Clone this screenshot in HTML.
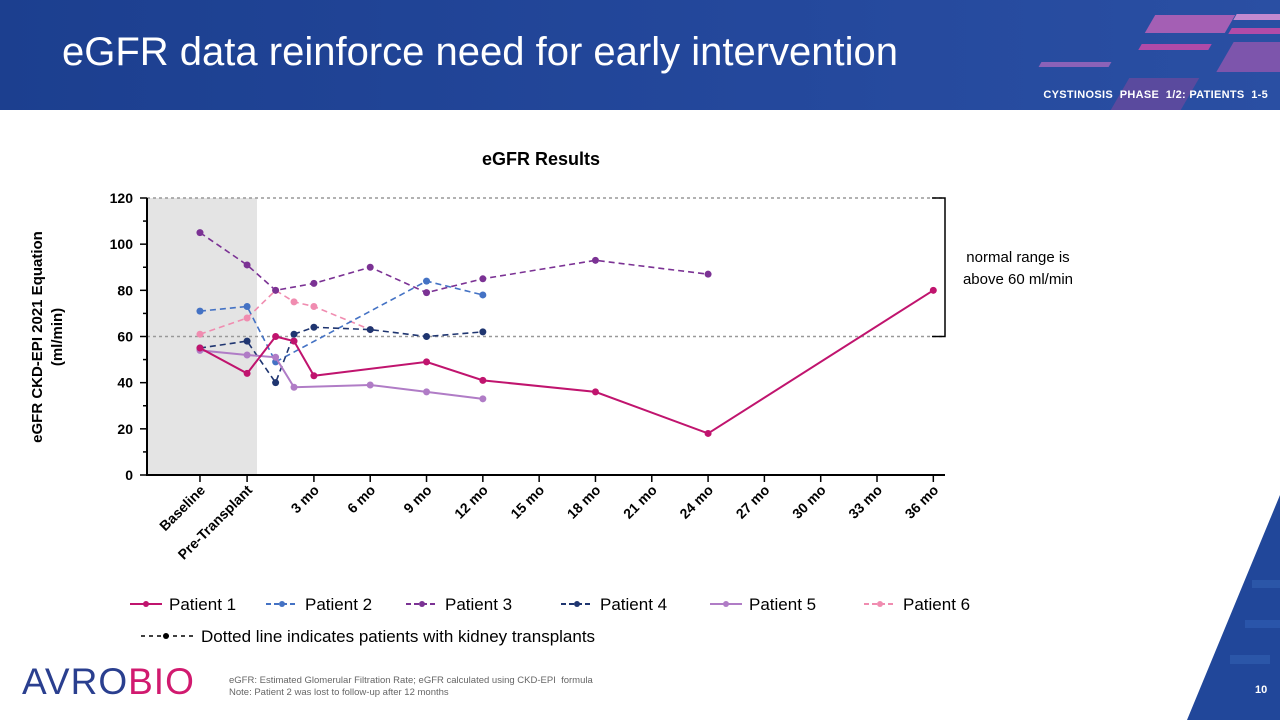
<!DOCTYPE html>
<html><head><meta charset="utf-8"><style>
body{margin:0;width:1280px;height:720px;overflow:hidden;background:#fff;font-family:"Liberation Sans",sans-serif;position:relative}
.hdr{position:absolute;left:0;top:0;width:1280px;height:110px;background:linear-gradient(90deg,#1c3f8f,#24489c 60%,#2a4fa3)}
.title{position:absolute;left:62px;top:30px;color:#fff;font-size:40px}
.sub{position:absolute;right:12px;top:89px;color:#fff;font-size:11px;font-weight:bold;letter-spacing:.3px}
.stripe{position:absolute;transform:skewX(-30deg)}
</style></head><body>
<div class="hdr">
 <div class="stripe" style="left:1150px;top:15px;width:80px;height:18px;background:#a45fb4"></div>
 <div class="stripe" style="left:1140px;top:44px;width:70px;height:6px;background:#b04aa8"></div>
 <div class="stripe" style="left:1040px;top:62px;width:70px;height:5px;background:#8b62b8"></div>
 <div class="stripe" style="left:1235px;top:14px;width:60px;height:6px;background:#c28ad0"></div>
 <div class="stripe" style="left:1230px;top:28px;width:60px;height:6px;background:#b24ba8"></div>
 <div class="stripe" style="left:1225px;top:42px;width:70px;height:30px;background:#7d55ac"></div>
 <div class="stripe" style="left:1120px;top:78px;width:70px;height:32px;background:#5a4a9e"></div>
</div>
<div class="title">eGFR data reinforce need for early intervention</div>
<div class="sub">CYSTINOSIS&nbsp; PHASE&nbsp; 1/2: PATIENTS&nbsp; 1-5</div>
<svg width="1280" height="720" style="position:absolute;left:0;top:0" id="chart">
 <polygon points="1280,495 1280,720 1187,720" fill="#21479a"/>
 <rect x="1252" y="580" width="28" height="8" fill="#2b56a8"/>
 <rect x="1230" y="655" width="40" height="9" fill="#2b56a8"/>
 <rect x="1245" y="620" width="35" height="8" fill="#2a55aa"/>
</svg>
<div style="position:absolute;left:22px;top:662px;font-size:37px;color:#2a3f8f;letter-spacing:1px;line-height:40px">AVRO<span style="color:#d11a6f">BIO</span></div>
<div style="position:absolute;left:229px;top:675px;font-size:9.5px;color:#666;line-height:12px">eGFR: Estimated Glomerular Filtration Rate; eGFR calculated using CKD-EPI&nbsp; formula<br>Note: Patient 2 was lost to follow-up after 12 months</div>
<div style="position:absolute;left:1255px;top:684px;font-size:11px;font-weight:bold;color:#fff">10</div>
<script>
const yTicks=[0,20,40,60,80,100,120];
const xCats=["Baseline","Pre-Transplant","3 mo","6 mo","9 mo","12 mo","15 mo","18 mo","21 mo","24 mo","27 mo","30 mo","33 mo","36 mo"];
const xCatMonths=[-3.07,-0.56,3,6,9,12,15,18,21,24,27,30,33,36];
const seriesNames=["Patient 1","Patient 2","Patient 3","Patient 4","Patient 5","Patient 6"];
const p1x=[-3.07,-0.56,0.96,1.94,3,9,12,18,24,36], p1y=[55,44,60,58,43,49,41,36,18,80];
const p2x=[-3.07,-0.56,0.96,9,12], p2y=[71,73,49,84,78];
const p3x=[-3.07,-0.56,0.96,3,6,9,12,18,24], p3y=[105,91,80,83,90,79,85,93,87];
const p4x=[-3.07,-0.56,0.96,1.94,3,6,9,12], p4y=[55,58,40,61,64,63,60,62];
const p5x=[-3.07,-0.56,0.96,1.94,6,9,12], p5y=[54,52,51,38,39,36,33];
const p6x=[-3.07,-0.56,0.96,1.94,3,6], p6y=[61,68,80,75,73,63];
const colors=["#c0146e","#4472c4","#7b3294","#1f3570","#b07cc6","#f08cb0"];
const dashed=[false,true,true,true,false,true];
const X=m=>257.6+m*18.77, Y=v=>475-v*277/120;
const svg=document.getElementById('chart'),NS="http://www.w3.org/2000/svg";
function mk(t,a,txt){const e=document.createElementNS(NS,t);for(const k in a)e.setAttribute(k,a[k]);if(txt!=null)e.textContent=txt;svg.appendChild(e);return e;}
let e;
e=mk('rect',{x:147,y:Y(120),width:110,height:Y(0)-Y(120),fill:"#e4e4e4"});

[60,120].forEach(v=>{e=mk('line',{x1:147,x2:945,y1:Y(v),y2:Y(v),stroke:"#999","stroke-dasharray":"3,3","stroke-width":1.5});
});
e=mk('path',{d:`M932,${Y(120)} H945 V${Y(60)} H932`,fill:"none",stroke:"#000","stroke-width":1.5});

e=mk('text',{x:1018,y:262,"text-anchor":"middle","font-size":15},"normal range is");
e=mk('text',{x:1018,y:284,"text-anchor":"middle","font-size":15},"above 60 ml/min");
e=mk('line',{x1:147,x2:147,y1:Y(120),y2:Y(0)+1,stroke:"#000","stroke-width":2});
e=mk('line',{x1:146,x2:945,y1:Y(0),y2:Y(0),stroke:"#000","stroke-width":2});
yTicks.forEach((v,i)=>{e=mk('line',{x1:140,x2:147,y1:Y(v),y2:Y(v),stroke:"#000","stroke-width":1.5});
 if(i<yTicks.length-1){e=mk('line',{x1:143,x2:147,y1:Y(v+10),y2:Y(v+10),stroke:"#000","stroke-width":1.5});}
 e=mk('text',{x:133,y:Y(v)+5,"text-anchor":"end","font-size":14,"font-weight":"bold"},v);});
xCats.forEach((c,i)=>{const x=X(xCatMonths[i]);e=mk('line',{x1:x,x2:x,y1:Y(0),y2:Y(0)+7,stroke:"#000","stroke-width":1.5});
 e=mk('text',{x:x+6,y:Y(0)+16,"text-anchor":"end","font-size":14,"font-weight":"bold",transform:`rotate(-45 ${x+6} ${Y(0)+16})`},c);});
e=mk('text',{x:541,y:165,"text-anchor":"middle","font-size":18,"font-weight":"bold"},"eGFR Results");
e=mk('text',{x:0,y:0,"text-anchor":"middle","font-size":15,"font-weight":"bold",transform:"translate(42,337) rotate(-90)"},"eGFR CKD-EPI 2021 Equation");
e=mk('text',{x:0,y:0,"text-anchor":"middle","font-size":15,"font-weight":"bold",transform:"translate(62,337) rotate(-90)"},"(ml/min)");
const xs=[p1x,p2x,p3x,p4x,p5x,p6x],ys=[p1y,p2y,p3y,p4y,p5y,p6y];
[5,1,2,3,4,0].forEach(s=>{
 const d=xs[s].map((m,i)=>(i?'L':'M')+X(m)+','+Y(ys[s][i])).join(' ');
 e=mk('path',{d:d,fill:"none",stroke:colors[s],"stroke-width":s==0||s==4?2:1.6,"stroke-dasharray":dashed[s]?"6,4":"none"});
 
 xs[s].forEach((m,i)=>{e=mk('circle',{cx:X(m),cy:Y(ys[s][i]),r:3.5,fill:colors[s]});
  });
});
const legX=[130,266,406,561,710,864];
seriesNames.forEach((n,s)=>{const x=legX[s],y=604;
 e=mk('line',{x1:x,x2:x+32,y1:y,y2:y,stroke:colors[s],"stroke-width":2,"stroke-dasharray":dashed[s]?"5,3":"none"});
 e=mk('circle',{cx:x+16,cy:y,r:3,fill:colors[s]});
 e=mk('text',{x:x+39,y:y+6,"font-size":17},n);});
e=mk('line',{x1:141,x2:195,y1:636,y2:636,stroke:"#000","stroke-width":1.5,"stroke-dasharray":"4,4"});
e=mk('circle',{cx:166,cy:636,r:3,fill:"#000"});
e=mk('text',{x:201,y:642,"font-size":17},"Dotted line indicates patients with kidney transplants");
</script>
</body></html>
